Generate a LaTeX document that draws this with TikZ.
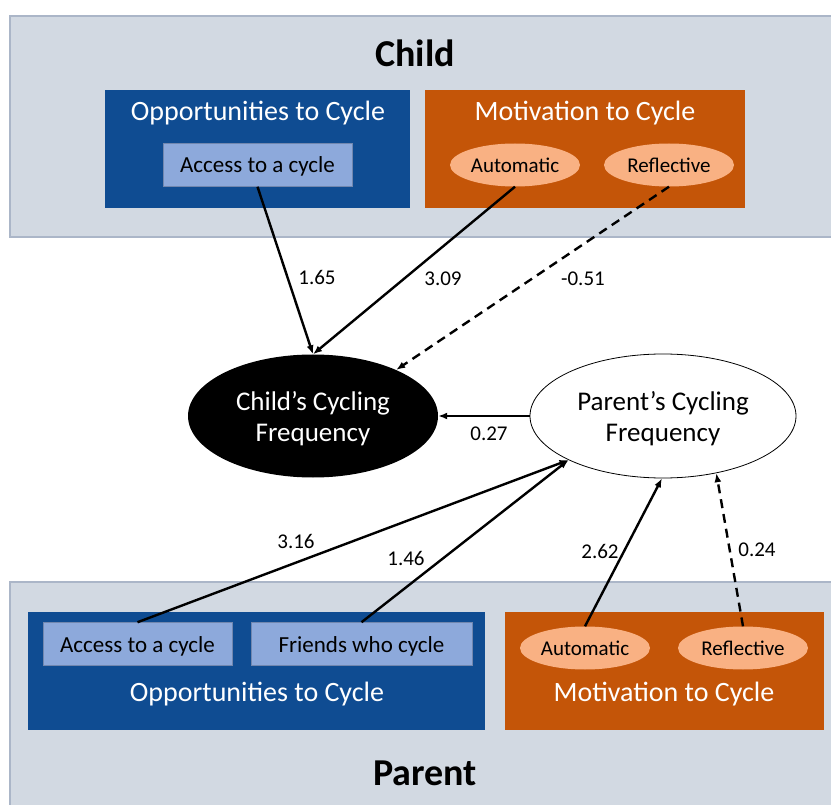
\documentclass[tikz,border=0pt]{standalone}
\usepackage{fontspec}
\setmainfont{Carlito}
\usetikzlibrary{arrows.meta,shapes.geometric}
\definecolor{band}{HTML}{D2D9E2}
\definecolor{bandline}{HTML}{ABB6C8}
\definecolor{oppblue}{HTML}{0F4C92}
\definecolor{lightblue}{HTML}{8DA9DB}
\definecolor{motorange}{HTML}{C45508}
\definecolor{lightorange}{HTML}{F9B183}
\newcommand\fsz[2]{\fontsize{#1}{#2}\selectfont}
\begin{document}
\begin{tikzpicture}[x=1pt,y=-1pt,
  bandbox/.style={draw=bandline,line width=1.5pt,fill=band},
  bigbox/.style={rectangle,inner sep=0,minimum height=118},
  innerbox/.style={rectangle,fill=lightblue,draw=lightblue!80!black,line width=0.5pt,inner sep=0,minimum height=43,text height=16pt,text depth=0pt,font=\fsz{23}{27}},
  smallell/.style={ellipse,fill=lightorange,inner sep=0,minimum width=130,minimum height=43,text height=15pt,text depth=0pt,font=\fsz{21}{25}},
  title/.style={text=white,font=\fsz{28}{32}},
  bigtitle/.style={font=\fsz{38}{44}\bfseries},
  freq/.style={ellipse,inner sep=0,align=center,text depth=0pt,font=\fsz{27}{31}},
  coef/.style={font=\fsz{21}{25}},
  arr/.style={-{Latex[length=9pt,width=7pt]},line width=2.4pt},
  dsh/.style={arr,dash pattern=on 9pt off 6pt}]
\useasboundingbox (0,0) rectangle (831,805);
\fill[white] (0,0) rectangle (831,805);
% bands
\draw[bandbox] (10,16) rectangle (840,237);
\draw[bandbox] (10,582) rectangle (840,815);
\node[bigtitle] (child) at (415,53) {Child};
\node[bigtitle] (parent) at (425,773) {Parent};
% child boxes
\node[bigbox,fill=oppblue,minimum width=305] (opp1) at (257.5,149) {};
\node[title] (opp1t) at (258,113) {Opportunities to Cycle};
\node[innerbox,minimum width=189] (acc1) at (257.5,165) {Access to a cycle};
\node[bigbox,fill=motorange,minimum width=320] (mot1) at (585,149) {};
\node[title] (mot1t) at (585,113) {Motivation to Cycle};
\node[smallell] (aut1) at (515,165) {Automatic};
\node[smallell] (ref1) at (669,165) {Reflective};
% parent boxes
\node[bigbox,fill=oppblue,minimum width=457] (opp2) at (256.5,671) {};
\node[innerbox,minimum width=189] (acc2) at (137.5,644) {Access to a cycle};
\node[innerbox,minimum width=221] (fri2) at (361.5,644) {Friends who cycle};
\node[title] (opp2t) at (257,694) {Opportunities to Cycle};
\node[bigbox,fill=motorange,minimum width=319] (mot2) at (664.5,671) {};
\node[smallell] (aut2) at (585,648) {Automatic};
\node[smallell] (ref2) at (743,648) {Reflective};
\node[title] (mot2t) at (664,694) {Motivation to Cycle};
% frequency ellipses
\node[freq,fill=black,text=white,minimum width=250,minimum height=123] (cf) at (313,416) {Child’s Cycling\\Frequency};
\node[freq,draw=black,line width=0.8pt,fill=white,minimum width=266,minimum height=124] (pf) at (663,416) {Parent’s Cycling\\Frequency};
% arrows
\draw[arr] (acc1.south) -- (cf.north);
\draw[arr] (aut1.south) -- (cf.north);
\draw[dsh] (ref1.south) -- (cf.29);
\draw[arr] (pf.west) -- (cf.east);
\draw[arr] (acc2.north) -- (pf.205);
\draw[arr] (fri2.north) -- (pf.205);
\draw[arr] (aut2.north) -- (pf.269);
\draw[dsh] (ref2.north) -- (pf.313);
% coefficients
\node[coef] (c1) at (317,277) {1.65};
\node[coef] (c2) at (443,279) {3.09};
\node[coef] (c3) at (583,279) {-0.51};
\node[coef] (c4) at (489,434) {0.27};
\node[coef] (c5) at (296,541) {3.16};
\node[coef] (c6) at (406,558) {1.46};
\node[coef] (c7) at (600,551) {2.62};
\node[coef] (c8) at (757,550) {0.24};
\end{tikzpicture}
\end{document}
